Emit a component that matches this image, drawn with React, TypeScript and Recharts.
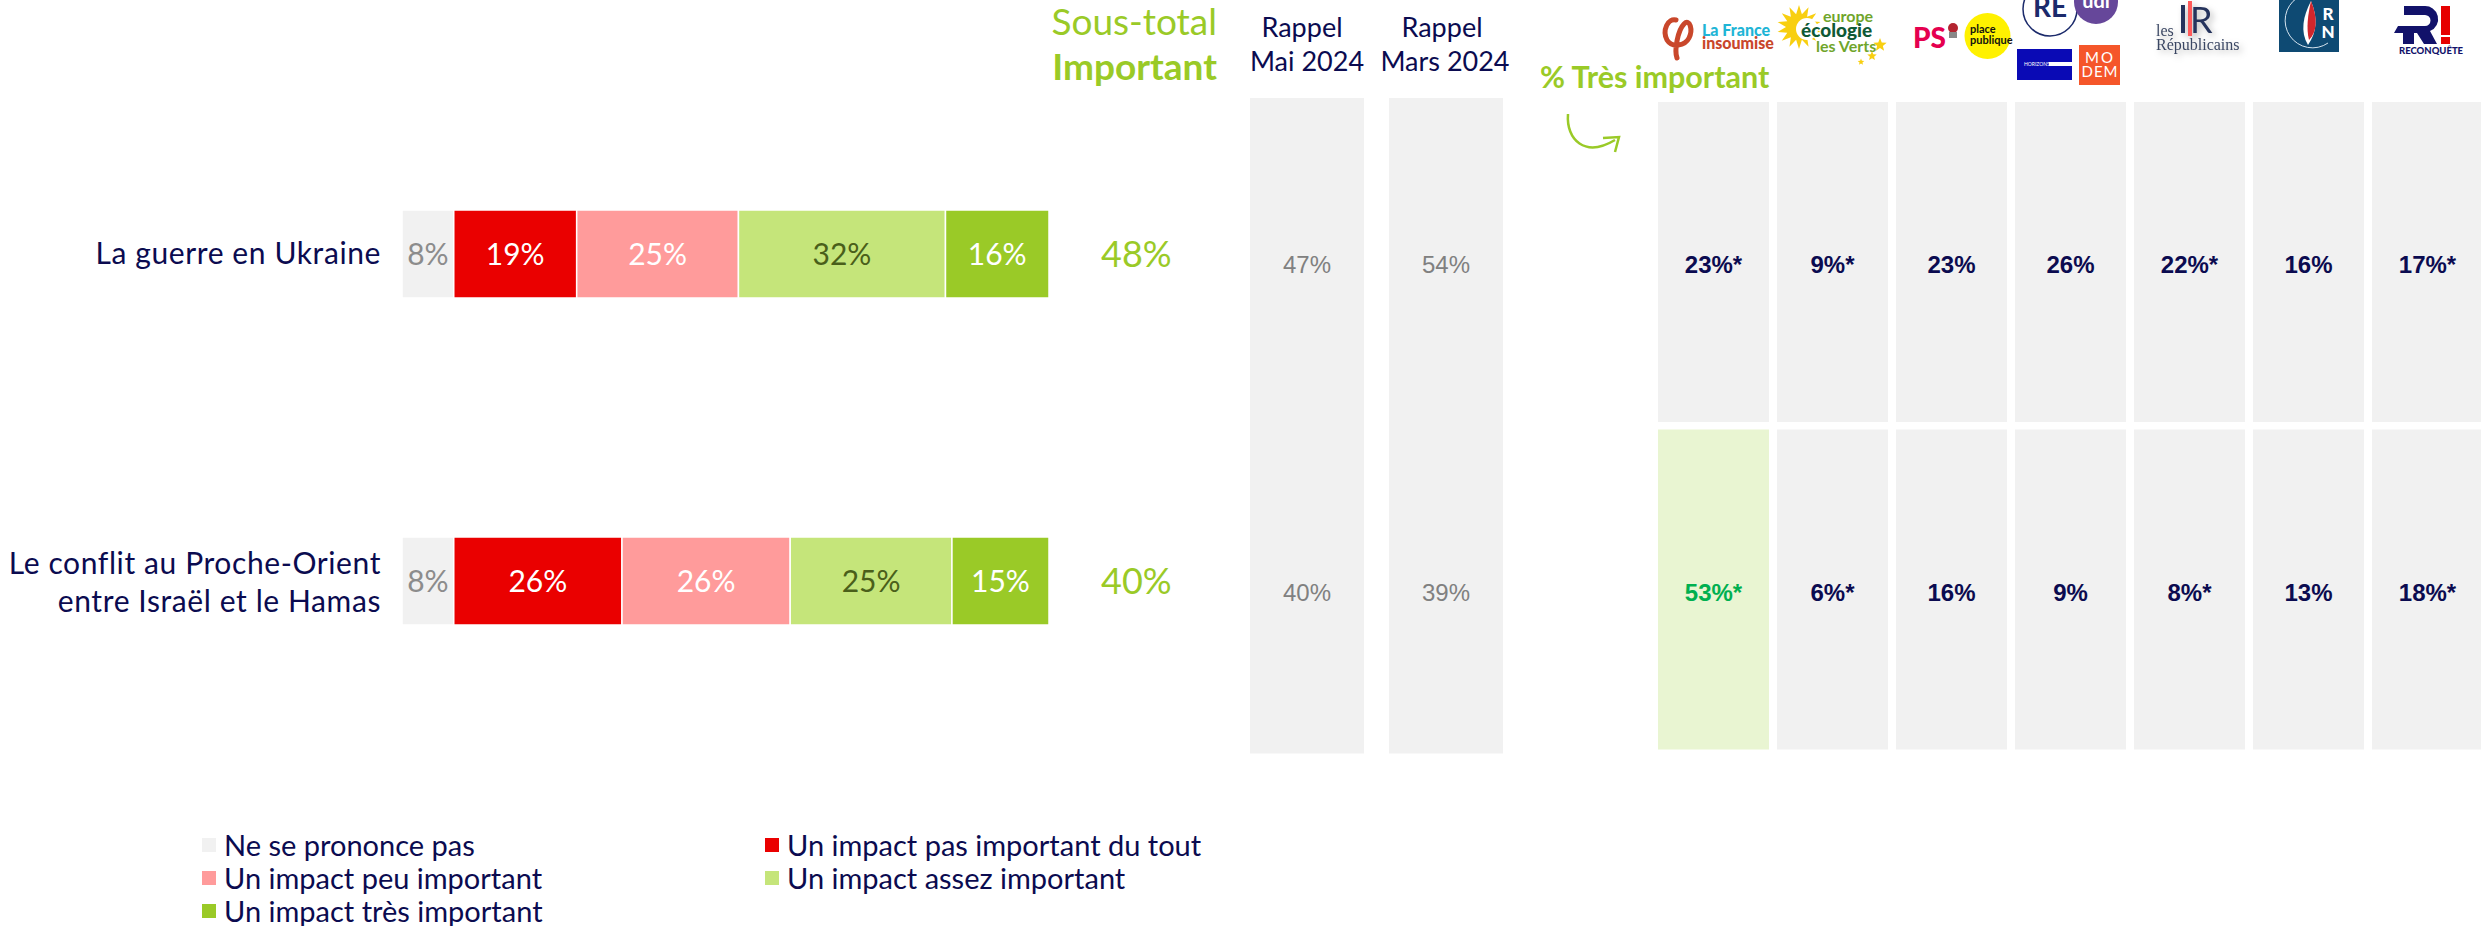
import { BarChart, Bar, XAxis, YAxis, Cell, LabelList, Legend } from "recharts";

const NAVY = "#0b0b50";
const GREEN = "#9aca27";
const FONT = "Lato, sans-serif";

const TOPICS = ["La guerre en Ukraine", "Le conflit au Proche-Orient\nentre Israël et le Hamas"];
const NSP = [8, 8];
const PAS_DU_TOUT = [19, 26];
const PEU = [25, 26];
const ASSEZ = [32, 25];
const TRES = [16, 15];
const SOUS_TOTAL = [48, 40];

const RAPPEL_MAI = [47, 40];
const RAPPEL_MARS = [54, 39];

const PARTIES = ["LFI", "EELV", "PS", "RE", "LR", "RN", "REC"];
const PARTY_GUERRE = ["23%*", "9%*", "23%", "26%", "22%*", "16%", "17%*"];
const PARTY_CONFLIT = ["53%*", "6%*", "16%", "9%", "8%*", "13%", "18%*"];
const HIGHLIGHT = "53%*";

const stackData = TOPICS.map((topic, i) => ({
  topic,
  nsp: NSP[i],
  pasDuTout: PAS_DU_TOUT[i],
  peu: PEU[i],
  assez: ASSEZ[i],
  tres: TRES[i],
  sousTotal: SOUS_TOTAL[i],
}));

const pct = (v: any) => `${v}%`;

// spiky polygon for the logo sun and stars
const spikes = (cx: number, cy: number, outer: number, inner: number, n: number) =>
  Array.from({ length: n * 2 }, (_, i) => {
    const r = i % 2 === 0 ? outer : inner;
    const a = (Math.PI * i) / n - Math.PI / 2;
    return `${cx + r * Math.cos(a)},${cy + r * Math.sin(a)}`;
  }).join(" ");

const TopicTick = ({ x, y, payload }: any) => {
  const lines = String(payload.value).split("\n");
  return (
    <text x={x} y={y} textAnchor="end" fontSize={30} letterSpacing={0.6} fontFamily={FONT} fill={NAVY}>
      {lines.map((line, i) => (
        <tspan key={i} x={x} dy={i === 0 ? (lines.length > 1 ? -7 : 10) : 38}>
          {line}
        </tspan>
      ))}
    </text>
  );
};

const LegendGrid = ({ payload }: any) => (
  <div style={{ display: "grid", gridTemplateColumns: "563px 563px", gridAutoRows: "33px", fontFamily: FONT, fontSize: 29, lineHeight: "26px", color: NAVY }}>
    {(payload || []).map((item: any) => (
      <div key={item.value} style={{ display: "flex", alignItems: "center", whiteSpace: "nowrap" }}>
        <span style={{ width: 14, height: 14, background: item.color, marginRight: 8, flex: "none" }} />
        {item.value}
      </div>
    ))}
  </div>
);

// one full-height column of grey panels with a value in each row
const PanelColumn = ({ left, width, labels, gap, labelStyle, highlight }: any) => {
  const data = labels.map((label: string) => ({ label, panel: 1 }));
  return (
    <div style={{ position: "absolute", left, top: 0 }}>
      <BarChart
        width={width}
        height={926}
        data={data}
        layout="vertical"
        barCategoryGap={gap}
        margin={{ top: 98, right: 0, bottom: 173, left: 0 }}
      >
        <XAxis type="number" domain={[0, 1]} hide />
        <YAxis type="category" dataKey="label" hide />
        <Bar dataKey="panel" fill="#f1f1f1" isAnimationActive={false}>
          {data.map((d: any) => (
            <Cell key={d.label} fill={d.label === highlight ? "#e9f5d2" : "#f1f1f1"} />
          ))}
          <LabelList
            dataKey="label"
            position="center"
            content={(p: any) => (
              <text
                x={p.x + p.width / 2}
                y={p.y + p.height / 2 + 11}
                textAnchor="middle"
                fontFamily="'Liberation Sans', sans-serif"
                fontSize={24}
                {...labelStyle}
                fill={p.value === highlight ? "#00b050" : labelStyle.fill}
              >
                {p.value}
              </text>
            )}
          />
        </Bar>
      </BarChart>
    </div>
  );
};

const Logos = () => (
  <svg width={2481} height={100} style={{ position: "absolute", left: 0, top: 0 }}>
    {/* La France insoumise */}
    <g>
      <path
        d="M1677 58 C1674 50 1678 30 1684 24 C1690 18 1693 30 1689 38 C1685 46 1672 48 1667 40 C1662 30 1668 18 1676 20"
        fill="none"
        stroke="#c9472b"
        strokeWidth={5}
        strokeLinecap="round"
      />
      <text x={1702} y={36} fontFamily={FONT} fontWeight={900} fontSize={16} fill="#1fb5d6">La France</text>
      <text x={1702} y={49} fontFamily={FONT} fontWeight={900} fontSize={16} fill="#c9472b">insoumise</text>
    </g>
    {/* Europe Ecologie Les Verts */}
    <g fontFamily={FONT} fontWeight={700}>
      <polygon points={spikes(1799, 27, 22, 13, 14)} fill="#f8cf10" />
      <circle cx={1807} cy={29} r={11} fill="#fff" />
      <text x={1823} y={22} fontSize={16} fill="#6fa52b">europe</text>
      <text x={1801} y={37} fontSize={19} fontWeight={900} fill="#0f5a36">écologie</text>
      <text x={1816} y={52} fontSize={16} fill="#6fa52b">les Verts</text>
      <polygon points={spikes(1880, 45, 7, 3, 5)} fill="#f8cf10" />
      <polygon points={spikes(1872, 56, 5, 2.2, 5)} fill="#f8cf10" />
      <polygon points={spikes(1861, 62, 3.5, 1.5, 5)} fill="#f8cf10" />
    </g>
    {/* PS / Place publique */}
    <g fontFamily={FONT} fontWeight={900}>
      <text x={1913} y={48} fontSize={28} fill="#e5004f">PS</text>
      <circle cx={1953} cy={28} r={5} fill="#b32430" />
      <rect x={1949} y={32} width={8} height={6} fill="#888" />
      <circle cx={1987.5} cy={36} r={23} fill="#fff100" />
      <text x={1970} y={33} fontSize={11} fontWeight={700} fill="#111">place</text>
      <text x={1970} y={44} fontSize={11} fontWeight={700} fill="#111">publique</text>
    </g>
    {/* Renaissance, UDI, Horizons, MoDem */}
    <g fontFamily={FONT}>
      <circle cx={2050} cy={9} r={27} fill="#fff" stroke="#1b2a6b" strokeWidth={1.5} />
      <circle cx={2096} cy={2} r={22} fill="#66479a" />
      <text x={2050} y={17} textAnchor="middle" fontSize={28} fontWeight={700} fill="#1b2a6b">RE</text>
      <text x={2096} y={8} textAnchor="middle" fontSize={20} fontWeight={700} fill="#fff">udi</text>
      <rect x={2017} y={49} width={55} height={31} fill="#0a0ab5" />
      <rect x={2049} y={62} width={23} height={4} fill="#fff" />
      <text x={2024} y={66} fontSize={5} fill="#fff">HORIZONS</text>
      <rect x={2079} y={45} width={41} height={40} fill="#f5562a" />
      <text x={2100} y={63} textAnchor="middle" fontSize={15} letterSpacing={2} fill="#fff">MO</text>
      <text x={2100} y={77} textAnchor="middle" fontSize={15} letterSpacing={1} fill="#fff">DEM</text>
    </g>
    {/* Les Republicains */}
    <g fontFamily="'Liberation Serif', serif" fill="#3b4763" style={{ filter: "drop-shadow(3px 3px 3px rgba(0,0,0,0.25))" }}>
      <rect x={2181} y={5} width={4} height={28} fill="#25335c" />
      <rect x={2188} y={1} width={4} height={35} fill="#ff5a5a" />
      <text x={2190} y={33} fontSize={36} fontFamily={FONT} fill="#25335c">R</text>
      <text x={2156} y={36} fontSize={16}>les</text>
      <text x={2156} y={50} fontSize={16}>Républicains</text>
    </g>
    {/* RN */}
    <g fontFamily={FONT} fontWeight={900}>
      <rect x={2279} y={0} width={60} height={52} fill="#0e4a73" />
      <path d="M2297 -2 A 27 27 0 1 0 2328 43" fill="none" stroke="#d5e3ee" strokeWidth={1} />
      <path d="M2311 1 C2318 18 2317 32 2308 45 C2300 32 2303 16 2311 1 Z" fill="#fff" />
      <path d="M2311 1 C2318 18 2317 32 2309 40 C2306 28 2308 14 2311 1 Z" fill="#d1262c" />
      <text x={2328} y={20} textAnchor="middle" fontSize={17} fill="#fff">R</text>
      <text x={2328} y={38} textAnchor="middle" fontSize={17} fill="#fff">N</text>
    </g>
    {/* Reconquete */}
    <g fontFamily={FONT} fontWeight={900}>
      <path
        d="M2404 6 H2424 A13 13 0 0 1 2430 31 L2437 44 H2424 L2417 33 H2414 V44 H2403 V33 H2394 L2398 26 H2425 A5.5 5.5 0 0 0 2425 15 H2404 Z"
        fill="#12126a"
      />
      <rect x={2441} y={6} width={9} height={29} fill="#e60000" />
      <rect x={2441} y={37} width={9} height={7} fill="#e60000" />
      <text x={2399} y={54} fontSize={9.5} fill="#12126a">RECONQUÊTE</text>
    </g>
  </svg>
);

const Headers = () => (
  <svg width={2481} height={170} style={{ position: "absolute", left: 0, top: 0 }}>
    <g fontFamily={FONT}>
      <text x={1217} y={35} textAnchor="end" fontSize={37} fill={GREEN}>Sous-total</text>
      <text x={1217} y={80} textAnchor="end" fontSize={37} fontWeight={700} fill={GREEN}>Important</text>
      <g fontSize={27} fill={NAVY} textAnchor="middle">
        <text x={1302} y={37}>Rappel</text>
        <text x={1307} y={71}>Mai 2024</text>
        <text x={1442} y={37}>Rappel</text>
        <text x={1445} y={71}>Mars 2024</text>
      </g>
      <text x={1540} y={88} fontSize={30.5} fontWeight={700} fill={GREEN}>% Très important</text>
    </g>
    <path d="M1568 114 C1566 140 1585 158 1615 140" fill="none" stroke={GREEN} strokeWidth={2.5} />
    <path d="M1603 138 L1619 137 L1615 152" fill="none" stroke={GREEN} strokeWidth={2.5} />
  </svg>
);

const App = () => (
  <div style={{ position: "fixed", left: 0, top: 0, width: 2481, height: 926, overflow: "hidden", background: "#fff" }}>
    <div style={{ position: "absolute", left: 0, top: 0 }}>
      <BarChart
        width={1250}
        height={926}
        data={stackData}
        layout="vertical"
        margin={{ top: 90, right: 201, bottom: 182, left: 0 }}
      >
        <XAxis type="number" domain={[0, 100]} hide />
        <YAxis
          type="category"
          dataKey="topic"
          width={402}
          axisLine={false}
          tickLine={false}
          tickMargin={15}
          tick={<TopicTick />}
        />
        <Legend
          verticalAlign="middle"
          itemSorter={null}
          content={<LegendGrid />}
          wrapperStyle={{ left: 202, top: 828, width: 1130 }}
        />
        <Bar dataKey="nsp" name="Ne se prononce pas" stackId="a" barSize={88} fill="#f1f1f1" stroke="#fff" strokeWidth={1.5} isAnimationActive={false}>
          <LabelList dataKey="nsp" position="center" formatter={pct} fill="#8c8c8c" fontSize={30} fontFamily={FONT} />
        </Bar>
        <Bar dataKey="pasDuTout" name="Un impact pas important du tout" stackId="a" barSize={88} fill="#ea0000" stroke="#fff" strokeWidth={1.5} isAnimationActive={false}>
          <LabelList dataKey="pasDuTout" position="center" formatter={pct} fill="#fff" fontSize={30} fontFamily={FONT} />
        </Bar>
        <Bar dataKey="peu" name="Un impact peu important" stackId="a" barSize={88} fill="#ff9b9b" stroke="#fff" strokeWidth={1.5} isAnimationActive={false}>
          <LabelList dataKey="peu" position="center" formatter={pct} fill="#fff" fontSize={30} fontFamily={FONT} />
        </Bar>
        <Bar dataKey="assez" name="Un impact assez important" stackId="a" barSize={88} fill="#c5e57a" stroke="#fff" strokeWidth={1.5} isAnimationActive={false}>
          <LabelList dataKey="assez" position="center" formatter={pct} fill="#4a5f1a" fontSize={30} fontFamily={FONT} />
        </Bar>
        <Bar dataKey="tres" name="Un impact très important" stackId="a" barSize={88} fill={GREEN} stroke="#fff" strokeWidth={1.5} isAnimationActive={false}>
          <LabelList dataKey="tres" position="center" formatter={pct} fill="#fff" fontSize={30} fontFamily={FONT} />
          <LabelList dataKey="sousTotal" position="right" offset={52} formatter={pct} fill={GREEN} fontSize={36} fontFamily={FONT} />
        </Bar>
      </BarChart>
    </div>

    <PanelColumn left={1250} width={114} gap={0} labels={RAPPEL_MAI.map(pct)} labelStyle={{ fill: "#808080" }} />
    <PanelColumn left={1389} width={114} gap={0} labels={RAPPEL_MARS.map(pct)} labelStyle={{ fill: "#808080" }} />
    {PARTIES.map((party, i) => (
      <PanelColumn
        key={party}
        left={1658 + i * 119}
        width={111}
        gap={4}
        labels={[PARTY_GUERRE[i], PARTY_CONFLIT[i]]}
        labelStyle={{ fill: NAVY, fontWeight: 700 }}
        highlight={HIGHLIGHT}
      />
    ))}

    <Headers />
    <Logos />
  </div>
);

export default App;
